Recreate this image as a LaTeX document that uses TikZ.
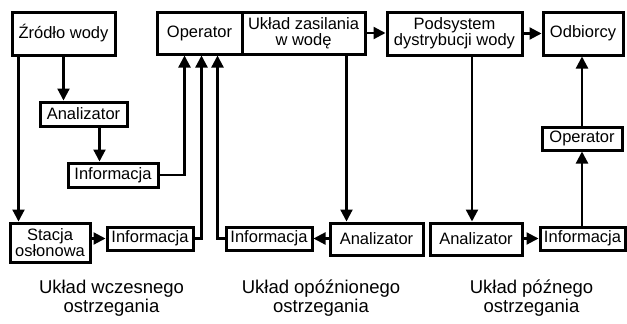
\documentclass[tikz,border=0pt]{standalone}
\usepackage{fontspec}
\setmainfont{Liberation Sans}
\usetikzlibrary{positioning,arrows.meta}
\begin{document}
\begin{tikzpicture}[x=1pt, y=-1pt,
  box/.style={draw, rectangle, line width=3pt, inner sep=1pt, align=center, font=\fontsize{16.5}{16}\selectfont},
  arr/.style={-{Triangle[length=12pt,width=12pt]}, line width=2.2pt},
  caption/.style={align=center, font=\fontsize{18.5}{17}\selectfont}]
  \useasboundingbox (0,0) rectangle (627,324);

  % main chain
  \node[box, minimum width=85pt, minimum height=42pt] (operator) at (199.5,33) {Operator};
  \node[box, minimum width=123pt, minimum height=42pt, right=-3pt of operator] (supply) {Układ zasilania\\ w wodę};
  \node[box, minimum width=103pt, minimum height=43pt] (source) at (63.5,33.5) {Źródło wody};
  \node[box, minimum width=135pt, minimum height=43pt] (distrib) at (454.5,33.5) {Podsystem\\dystrybucji wody};
  \node[box, minimum width=80pt, minimum height=43pt] (consumers) at (583,33.5) {Odbiorcy};

  % early warning
  \node[box, minimum width=87pt, minimum height=24pt] (analyzer1) at (83.5,114) {Analizator};
  \node[box, minimum width=90pt, minimum height=24pt] (info1) at (113,175) {Informacja};
  \node[box, minimum width=80pt, minimum height=39pt] (station) at (50,242.5) {Stacja\\osłonowa};
  \node[box, minimum width=86pt, minimum height=23pt] (info2) at (150,238.5) {Informacja};

  % delayed warning
  \node[box, minimum width=86pt, minimum height=23pt] (info3) at (269,238.5) {Informacja};
  \node[box, minimum width=93pt, minimum height=32pt] (analyzer2) at (376.5,239) {Analizator};

  % late warning
  \node[box, minimum width=92pt, minimum height=32pt] (analyzer3) at (476,239) {Analizator};
  \node[box, minimum width=85pt, minimum height=23pt] (info4) at (582.5,238.5) {Informacja};
  \node[box, minimum width=80pt, minimum height=23pt] (operator2) at (582,138.5) {Operator};

  \draw[arr] (source.south) -- (source.south |- analyzer1.north);
  \draw[arr] ([xshift=8pt]source.south west) -- ([xshift=8pt]source.south west |- station.north);
  \draw[arr] ([xshift=16pt]analyzer1.south) -- ([xshift=16pt]analyzer1.south |- info1.north);
  \draw[arr] (info1.east) -| ([xshift=-15pt]operator.south);
  \draw[arr] (station.east |- info2) -- (info2.west);
  \draw[arr] (info2.east) -| ([xshift=2pt]operator.south);
  \draw[arr] (info3.west) -| ([xshift=18pt]operator.south);
  \draw[arr] (supply.east) -- (supply.east -| distrib.west);
  \draw[arr] (distrib.east) -- (distrib.east -| consumers.west);
  \draw[arr] ([xshift=43pt]supply.south) -- ([xshift=43pt]supply.south |- analyzer2.north);
  \draw[arr] (analyzer2.west |- info3) -- (info3.east);
  \draw[arr] ([xshift=-4pt]analyzer3.north |- distrib.south) -- ([xshift=-4pt]analyzer3.north);
  \draw[arr] (analyzer3.east |- info4) -- (info4.west);
  \draw[arr] (info4.north -| operator2) -- (operator2.south);
  \draw[arr] (operator2.north) -- (operator2.north |- consumers.south);

  \node[caption, anchor=base] (early) at (111.5,312) {Układ wczesnego\\ostrzegania};
  \node[caption, anchor=base] (delayed) at (321,312) {Układ opóźnionego\\ostrzegania};
  \node[caption, anchor=base] (late) at (531.5,312) {Układ późnego\\ostrzegania};
\end{tikzpicture}
\end{document}
